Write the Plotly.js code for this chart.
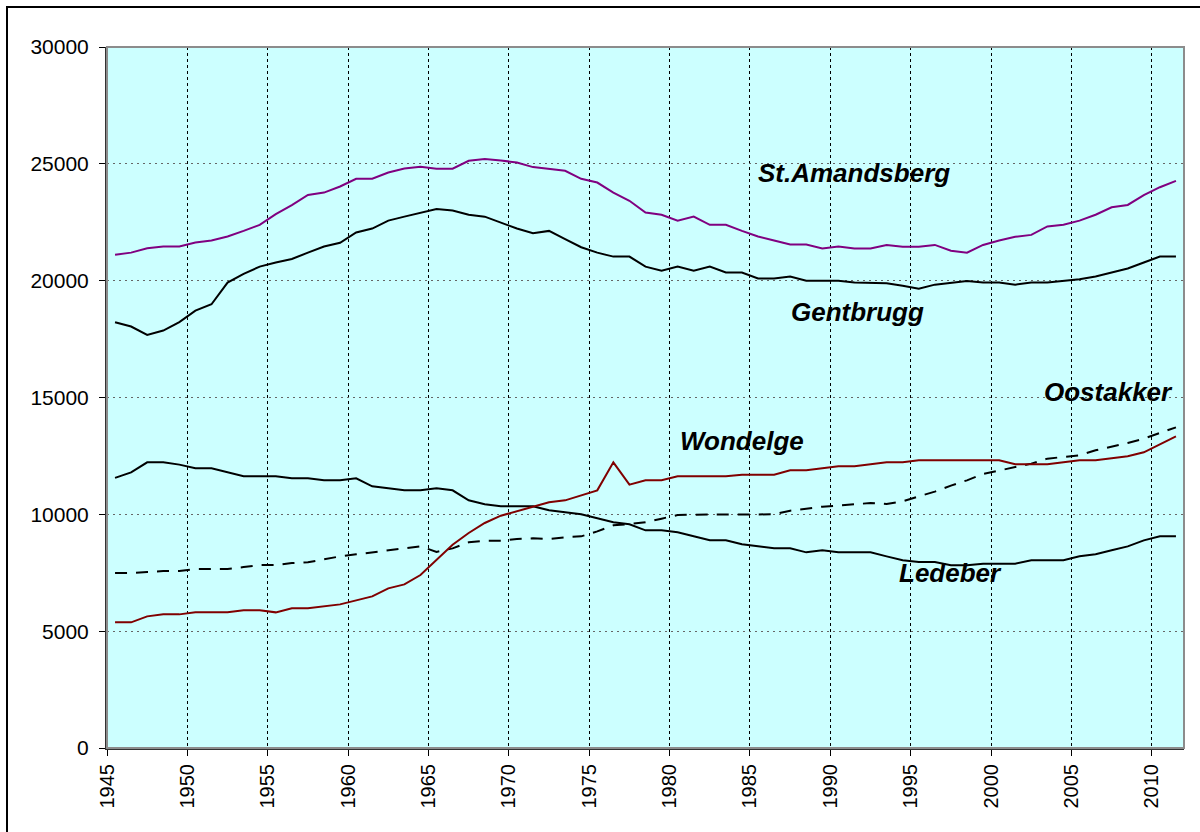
<!DOCTYPE html>
<html>
<head>
<meta charset="utf-8">
<script src="https://cdn.plot.ly/plotly-3.0.1.min.js"></script>
<style>
    body { margin: 0; background: #fff; }
    #graph { width: 1200px; height: 832px; }
    #frame {
        position: absolute; left: 6px; top: 6px; width: 1300px; height: 900px;
        border-left: 2px solid #000; border-top: 2px solid #000;
        pointer-events: none;
    }
</style>
</head>
<body>
<div id="graph"></div>
<div id="frame"></div>
<script>
// population per district, 1945 .. 2011
const years = [];
for (let y = 1945; y <= 2011; y++) years.push(y);

const stAmandsberg = [
    21105, 21200, 21390, 21460, 21460, 21630, 21720, 21890, 22130, 22390,
    22850, 23230, 23670, 23770, 24030, 24360, 24360, 24630, 24800, 24870,
    24790, 24790, 25130, 25210, 25140, 25060, 24860, 24790, 24700, 24360,
    24200, 23770, 23420, 22915, 22820, 22570, 22740, 22390, 22390, 22130,
    21890, 21720, 21545, 21545, 21375, 21460, 21375, 21375, 21530, 21450,
    21450, 21530, 21280, 21200, 21530, 21720, 21875, 21960, 22320, 22390,
    22570, 22820, 23140, 23240, 23660, 24000, 24270
];

const gentbrugge = [
    18224, 18036, 17680, 17865, 18224, 18720, 18990, 19920, 20290, 20600,
    20775, 20930, 21200, 21460, 21620, 22060, 22230, 22570, 22740, 22915,
    23070, 23000, 22820, 22740, 22490, 22230, 22030, 22130, 21780, 21430,
    21200, 21030, 21030, 20600, 20430, 20600, 20430, 20600, 20350, 20350,
    20090, 20090, 20175, 20000, 20000, 20000, 19920, 19920, 19890, 19780,
    19650, 19830, 19920, 19990, 19920, 19920, 19830, 19920, 19920, 19990,
    20065, 20175, 20350, 20520, 20775, 21030, 21030
];

const ledeberg = [
    11558, 11798, 12226, 12226, 12127, 11969, 11969, 11798, 11627, 11627,
    11627, 11541, 11541, 11455, 11455, 11541, 11199, 11113, 11027, 11027,
    11113, 11027, 10599, 10428, 10342, 10342, 10342, 10171, 10086, 10000,
    9829, 9658, 9572, 9315, 9315, 9229, 9058, 8887, 8887, 8716,
    8630, 8544, 8544, 8373, 8459, 8373, 8373, 8373, 8202, 8031,
    7959, 7959, 7817, 7817, 7888, 7888, 7888, 8031, 8031, 8031,
    8202, 8288, 8459, 8630, 8887, 9058, 9058
];

const wondelgem = [
    5377, 5377, 5633, 5719, 5719, 5805, 5805, 5805, 5890, 5890,
    5805, 5976, 5976, 6061, 6147, 6318, 6490, 6832, 7003, 7403,
    8059, 8700, 9201, 9629, 9943, 10128, 10300, 10514, 10599, 10799,
    11027, 12226, 11270, 11455, 11455, 11627, 11627, 11627, 11627, 11698,
    11698, 11698, 11884, 11884, 11969, 12055, 12055, 12140, 12226, 12226,
    12312, 12312, 12312, 12312, 12312, 12312, 12140, 12140, 12140, 12226,
    12312, 12312, 12397, 12483, 12654, 12997, 13339
];

const oostakker = [
    7488, 7488, 7530, 7574, 7574, 7660, 7660, 7660, 7745, 7831,
    7831, 7917, 7945, 8088, 8202, 8288, 8373, 8459, 8516, 8630,
    8390, 8544, 8801, 8873, 8873, 8944, 8973, 8944, 9016, 9058,
    9272, 9529, 9586, 9658, 9815, 9971, 9986, 9986, 9986, 9986,
    9986, 10000, 10157, 10243, 10328, 10371, 10442, 10485, 10442, 10557,
    10770, 10970, 11227, 11455, 11727, 11870, 11998, 12169, 12383, 12454,
    12526, 12740, 12883, 13054, 13239, 13482, 13724
];

// x tick labels sit on the category boundaries, every 5 years
const tickLabels = ['1945', '1950', '1955', '1960', '1965', '1970', '1975',
    '1980', '1985', '1990', '1995', '2000', '2005', '2010'];
const tickPositions = tickLabels.map(t => Number(t) - 0.5);

// in-chart labels
const labelNames = ['St.Amandsberg', 'Gentbrugg', 'Wondelge', 'Oostakker', 'Ledeber'];
const labelYears = [1991.0, 1991.2, 1984.0, 2006.8, 1997.0];
const labelValues = [24600, 18660, 13140, 15230, 7490];

const FONT = '"Liberation Sans", Arial, sans-serif';

function line(values, color, dash) {
    return {
        x: years,
        y: values,
        mode: 'lines',
        line: {color: color, width: 2, dash: dash || 'solid'},
        hoverinfo: 'none',
    };
}

const traces = [
    line(oostakker, '#000000', '12px,9px'),
    line(ledeberg, '#000000'),
    line(wondelgem, '#800000'),
    line(gentbrugge, '#000000'),
    line(stAmandsberg, '#800080'),
];

const annotations = labelNames.map((name, i) => ({
    x: labelYears[i],
    y: labelValues[i],
    xref: 'x',
    yref: 'y',
    text: '<b><i>' + name + '</i></b>',
    showarrow: false,
    font: {family: FONT, size: 26, color: '#000'},
}));

const layout = {
    width: 1200,
    height: 832,
    margin: {l: 107, r: 16, t: 47, b: 84},
    paper_bgcolor: '#ffffff',
    plot_bgcolor: '#ccffff',
    showlegend: false,
    font: {family: FONT, color: '#000'},
    xaxis: {
        range: [1944.5, 2011.5],
        tickmode: 'array',
        tickvals: tickPositions,
        ticktext: tickLabels,
        tickangle: -90,
        ticks: 'outside',
        ticklen: 6,
        tickcolor: '#000',
        tickfont: {size: 20},
        showline: true,
        linecolor: '#333',
        linewidth: 2,
        showgrid: true,
        gridcolor: '#000',
        gridwidth: 1,
        griddash: '3px,3px',
        zeroline: false,
    },
    yaxis: {
        range: [0, 30000],
        tickvals: [0, 5000, 10000, 15000, 20000, 25000, 30000],
        ticktext: ['0', '5000', '10000', '15000', '20000', '25000', '30000'],
        ticks: 'outside',
        ticklen: 6,
        tickcolor: '#000',
        tickfont: {size: 21},
        ticklabelstandoff: 6,
        showline: true,
        linecolor: '#333',
        linewidth: 2,
        showgrid: true,
        gridcolor: '#666',
        gridwidth: 1,
        griddash: '2px,4px',
        zeroline: false,
    },
    shapes: [{
        type: 'rect', xref: 'paper', yref: 'paper',
        x0: 0, x1: 1, y0: 0, y1: 1,
        line: {color: '#8c8c8c', width: 2},
    }],
    annotations: annotations,
};

const config = {
    staticPlot: true,
    displayModeBar: false,
};

Plotly.newPlot('graph', traces, layout, config);
</script>
</body>
</html>
